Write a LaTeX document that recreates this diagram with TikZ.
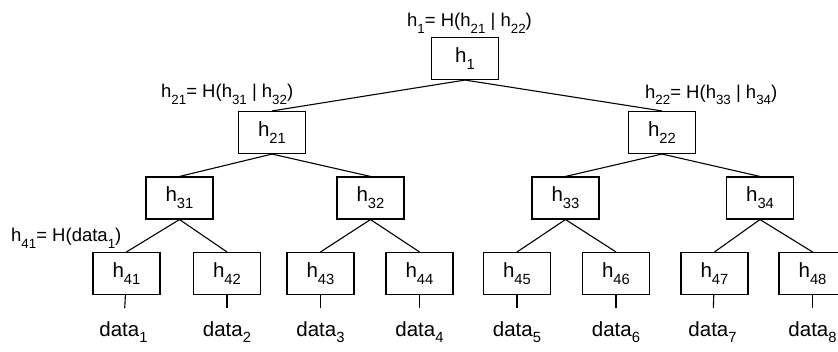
\documentclass[tikz,border=0pt]{standalone}
\usepackage{fontspec}
\setmainfont{Liberation Sans}
\usetikzlibrary{positioning}
\newcommand{\idx}[1]{\raisebox{-.33em}{\scalebox{.72}{#1}}}
\tikzset{%
    hashbox/.style = {draw=black, rectangle, line width=1.1pt,
        minimum width=67pt, minimum height=42pt, inner sep=0pt,
        font=\fontsize{20.5}{24}\selectfont},
    hashlabel/.style = {inner sep=0pt, anchor=base west,
        font=\fontsize{18.5}{22}\selectfont},
    datanode/.style = {inner sep=0pt, font=\fontsize{20.5}{24}\selectfont},
    link/.style = {draw=black, line width=1.1pt},
}

\begin{document}
\begin{tikzpicture}[x=1pt, y=-1pt]
    \useasboundingbox (0,0) rectangle (838,352);
    \clip (0,0) rectangle (838,352);
    % root
    \node [hashbox] (h1) at (465,58.5) {h\idx{1}};
    \node [hashlabel] (l1) at (407,27) {h\idx{1}= H(h\idx{21} | h\idx{22})};
    % second level
    \node [hashbox] (h21) at (272,132.5) {h\idx{21}};
    \node [hashbox] (h22) at (662,132.5) {h\idx{22}};
    \node [hashlabel] (l21) at (161,98) {h\idx{21}= H(h\idx{31} | h\idx{32})};
    \node [hashlabel] (l22) at (645,98.5) {h\idx{22}= H(h\idx{33} | h\idx{34})};
    \path [link] (h1.south) -- (h21.north);
    \path [link] (h1.south) -- (h22.north);
    % third level
    \node [hashbox] (h31) at (179.5,198) {h\idx{31}};
    \node [hashbox] (h32) at (370.5,198) {h\idx{32}};
    \node [hashbox] (h33) at (565.5,198) {h\idx{33}};
    \node [hashbox] (h34) at (760,198) {h\idx{34}};
    \path [link] (h21.south) -- (h31.north);
    \path [link] (h21.south) -- (h32.north);
    \path [link] (h22.south) -- (h33.north);
    \path [link] (h22.south) -- (h34.north);
    % leaves
    \node [hashbox] (h41) at (126.5,273.5) {h\idx{41}};
    \node [hashbox] (h42) at (227,273.5) {h\idx{42}};
    \node [hashbox] (h43) at (320.5,273.5) {h\idx{43}};
    \node [hashbox] (h44) at (419.5,273.5) {h\idx{44}};
    \node [hashbox] (h45) at (517,273.5) {h\idx{45}};
    \node [hashbox] (h46) at (616,273.5) {h\idx{46}};
    \node [hashbox] (h47) at (714.5,273.5) {h\idx{47}};
    \node [hashbox] (h48) at (812.5,273.5) {h\idx{48}};
    \node [hashlabel] (l41) at (11,242) {h\idx{41}= H(data\idx{1})};
    \path [link] (h31.south) -- (h41.north);
    \path [link] (h31.south) -- (h42.north);
    \path [link] (h32.south) -- (h43.north);
    \path [link] (h32.south) -- (h44.north);
    \path [link] (h33.south) -- (h45.north);
    \path [link] (h33.south) -- (h46.north);
    \path [link] (h34.south) -- (h47.north);
    \path [link] (h34.south) -- (h48.north);
    % data blocks
    \node [datanode, below=26pt of h41, xshift=-3pt] (d1) {data\idx{1}};
    \node [datanode, below=26pt of h42] (d2) {data\idx{2}};
    \node [datanode, below=26pt of h43] (d3) {data\idx{3}};
    \node [datanode, below=26pt of h44] (d4) {data\idx{4}};
    \node [datanode, below=26pt of h45] (d5) {data\idx{5}};
    \node [datanode, below=26pt of h46] (d6) {data\idx{6}};
    \node [datanode, below=26pt of h47, xshift=-2pt] (d7) {data\idx{7}};
    \node [datanode, below=26pt of h48] (d8) {data\idx{8}};
    \path [link, shorten >=13pt] (h41) -- (d1);
    \path [link, shorten >=13pt] (h42) -- (d2);
    \path [link, shorten >=13pt] (h43) -- (d3);
    \path [link, shorten >=13pt] (h44) -- (d4);
    \path [link, shorten >=13pt] (h45) -- (d5);
    \path [link, shorten >=13pt] (h46) -- (d6);
    \path [link, shorten >=13pt] (h47) -- (d7);
    \path [link, shorten >=13pt] (h48) -- (d8);
\end{tikzpicture}
\end{document}
